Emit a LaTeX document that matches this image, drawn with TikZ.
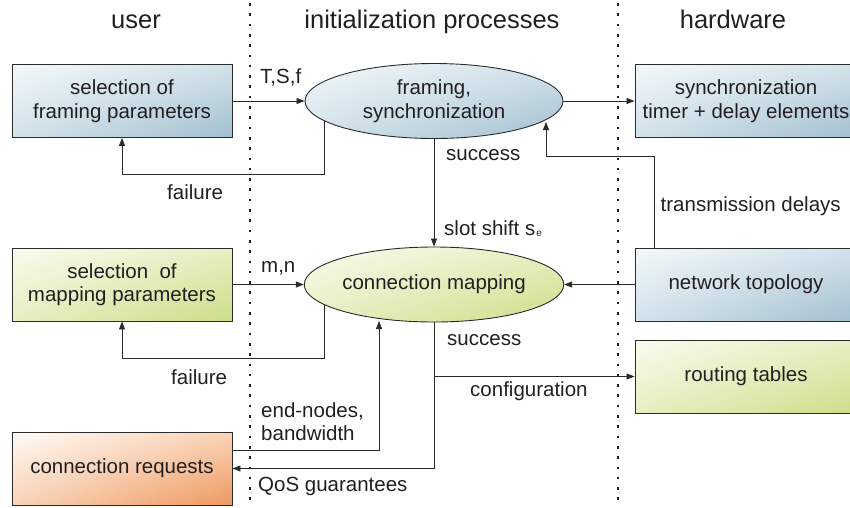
\documentclass[tikz,border=0pt]{standalone}
\usepackage{fontspec}
\setmainfont{Liberation Sans}
\usetikzlibrary{shapes.geometric,arrows.meta,calc,shadings}

\definecolor{ink}{HTML}{231F20}
\definecolor{wire}{HTML}{2B2B2B}
\definecolor{bluelo}{HTML}{F3F8FA}
\definecolor{bluemid}{HTML}{D2E2EB}
\definecolor{bluehi}{HTML}{A3BFCF}
\definecolor{greenlo}{HTML}{F9FBEE}
\definecolor{greenmid}{HTML}{E6EFC2}
\definecolor{greenhi}{HTML}{CCDE88}
\definecolor{orangelo}{HTML}{FFFAF6}
\definecolor{orangemid}{HTML}{F9D3B7}
\definecolor{orangehi}{HTML}{EE9860}

\pgfdeclarelayer{bg}
\pgfsetlayers{bg,main}

% small lowered index letter
\newcommand{\idx}[1]{\kern1pt\raisebox{-1pt}{\fontsize{10}{10}\selectfont #1}}

\begin{document}
\begin{tikzpicture}[x=1pt,y=-1pt,
  every node/.style={text=ink, font=\fontsize{20.5}{23.5}\selectfont},
  blockbase/.style={draw=wire, line width=0.9pt, minimum width=220pt,
    minimum height=73pt, inner sep=0pt, align=center},
  blueblock/.style={blockbase, upper left=bluelo, upper right=bluemid,
    lower left=bluemid, lower right=bluehi},
  greenblock/.style={blockbase, upper left=greenlo, upper right=greenmid,
    lower left=greenmid, lower right=greenhi},
  orangeblock/.style={blockbase, upper left=orangelo, upper right=orangemid,
    lower left=orangemid, lower right=orangehi},
  procbase/.style={ellipse, draw=wire, line width=0.9pt, minimum width=258pt,
    minimum height=75pt, inner sep=0pt, align=center},
  blueproc/.style={procbase, upper left=bluelo, upper right=bluemid,
    lower left=bluemid, lower right=bluehi},
  greenproc/.style={procbase, upper left=greenlo, upper right=greenmid,
    lower left=greenmid, lower right=greenhi},
  arr/.style={draw=wire, line width=0.8pt, -{Triangle[length=8pt,width=6pt]}},
  lbl/.style={inner sep=0pt, anchor=base west},
  head/.style={inner sep=0pt, anchor=base, font=\fontsize{25.5}{28}\selectfont},
  lane/.style={draw=ink, line width=2.6pt, dash pattern=on 2.6pt off 7.7pt}
]
\useasboundingbox (0,0) rectangle (850,507);
\clip (0,0) rectangle (850,507);

% column headings and lane separators
\node[head] (huser) at (136,28) {user};
\node[head] (hinit) at (432,28) {initialization processes};
\node[head] (hhw)   at (733,28) {hardware};
\coordinate (laneAtop) at (250,3);  \coordinate (laneAbot) at (250,500);
\coordinate (laneBtop) at (618,3);  \coordinate (laneBbot) at (618,500);
\draw[lane] (laneAtop) -- (laneAbot);
\draw[lane] (laneBtop) -- (laneBbot);

% user side
\node[blueblock]   (fbox) at (122,101)   {selection of\\framing parameters};
\node[greenblock]  (mbox) at (122,284.5) {selection\ \ of\\mapping parameters};
\node[orangeblock] (creq) at (122,468.5) {connection requests};

% initialization processes
\node[blueproc]  (fell) at (434,101)   {framing,\\synchronization};
\node[greenproc] (mell) at (434,284.5) {connection mapping};

% hardware side
\node[blueblock, minimum width=222pt]  (sync) at (746,101)   {synchronization\\timer + delay elements};
\node[blueblock, minimum width=222pt]  (ntop) at (746,284.5) {network topology};
\node[greenblock, minimum width=222pt] (rtab) at (746,376.5) {routing tables};

% end points on the ellipse borders
\coordinate (ftip) at (546,122);
\coordinate (mtip) at (379,321);

% connector labels
\node[lbl] (lTSF)   at (260,83.5)  {T,S,f};
\node[lbl] (lfail1) at (167,199)   {failure};
\node[lbl] (lsucc1) at (446,160)   {success};
\node[lbl] (ltd)    at (660.5,211) {transmission delays};
\node[lbl] (lslot)  at (444,235)   {slot shift s\idx{e}};
\node[lbl] (lmn)    at (261,272.7) {m,n};
\node[lbl] (lfail2) at (171,384)   {failure};
\node[lbl] (lsucc2) at (447,345.7) {success};
\node[lbl] (lconf)  at (470,396.7) {configuration};
\node[lbl] (lend)   at (261,417.3) {end-nodes,};
\node[lbl] (lbw)    at (261,440.7) {bandwidth};
\node[lbl] (lqos)   at (258,491)   {QoS guarantees};

\begin{pgfonlayer}{bg}
  % framing stage
  \draw[arr] (fbox) -- (fell);
  \draw[arr] (fell) -- (sync);
  \draw[arr] ($(fell.center)+(-110,0)$) -- ++(0,73) -| (fbox.south);
  \draw[arr] (fell) -- (mell);
  \draw[arr] ($(ntop.north west)+(20,0)$) |- ($(ftip)+(0,34)$) -- (ftip);
  % mapping stage
  \draw[arr] (mbox) -- (mell);
  \draw[arr] (ntop) -- (mell);
  \draw[arr] ($(mell.center)+(-110,0)$) -- ++(0,73.5) -| (mbox.south);
  \draw[arr] ($(creq.east)+(0,-18.5)$) -| (mtip);
  \draw[arr] (mell.center) |- (creq.east);
  \draw[arr] (mell.center |- rtab.west) -- (rtab.west);
\end{pgfonlayer}
\end{tikzpicture}
\end{document}
